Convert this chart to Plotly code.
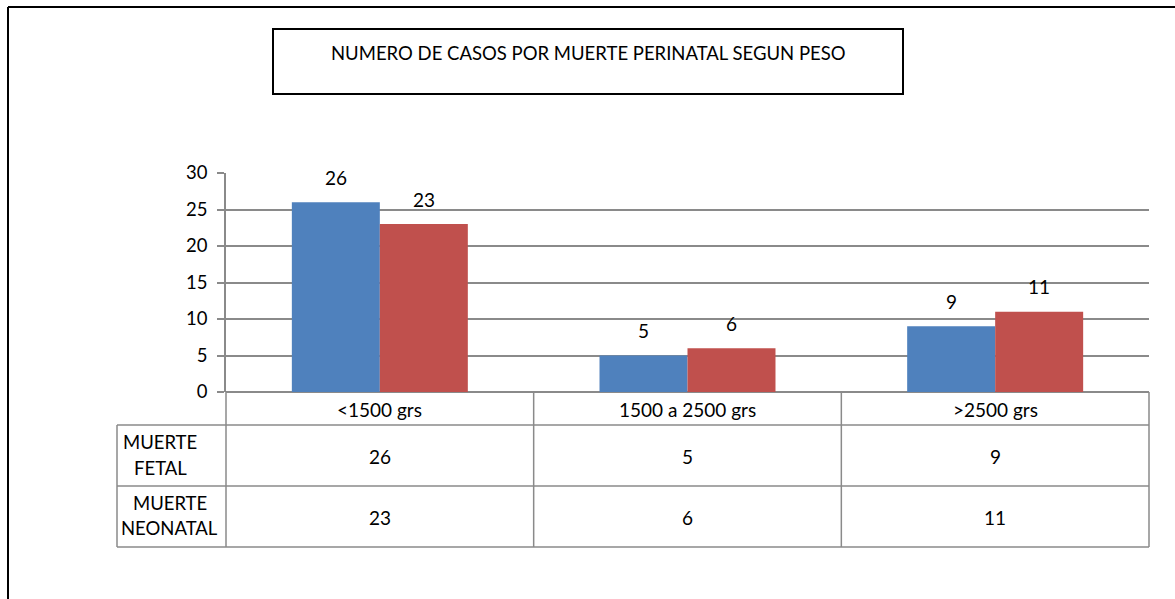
import plotly.graph_objects as go

categories = ["<1500 grs", "1500 a 2500 grs", ">2500 grs"]
series_names = ["MUERTE FETAL", "MUERTE NEONATAL"]
muerte_fetal = [26, 5, 9]
muerte_neonatal = [23, 6, 11]
title_text = "NUMERO DE CASOS POR MUERTE PERINATAL SEGUN PESO"
y_ticks = [0, 5, 10, 15, 20, 25, 30]

W, H = 1175, 599
FONT = "Lato"
FS = 19
FS_WORD = 18.5
GRID = "#8a8a8a"
colors = ["#4F81BD", "#C0504D"]
values = [muerte_fetal, muerte_neonatal]


def px(x):
    return x / W


def py(y):
    return 1 - y / H


fig = go.Figure()
for name, vals, col in zip(series_names, values, colors):
    fig.add_trace(go.Bar(x=categories, y=vals, name=name, marker=dict(color=col, line=dict(width=0))))

# plot area pixels
L, R, T, B = 226, 1149, 173, 392
fig.update_layout(
    width=W, height=H, autosize=False,
    margin=dict(l=0, r=0, t=0, b=0, pad=0, autoexpand=False),
    paper_bgcolor="white", plot_bgcolor="white",
    showlegend=False,
    barmode="group", bargap=0.428, bargroupgap=0,
    font=dict(family=FONT, size=FS, color="black"),
    xaxis=dict(domain=[px(L), px(R)], showticklabels=False, showgrid=False, automargin=False,
               zeroline=False, showline=False, fixedrange=True),
    yaxis=dict(domain=[py(B), py(T)], range=[0, 30], tickvals=y_ticks, automargin=False,
               showgrid=True, gridcolor=GRID, gridwidth=1.5,
               zeroline=True, zerolinecolor=GRID, zerolinewidth=1.5,
               showline=True, linecolor=GRID, linewidth=1.5,
               ticks="outside", ticklen=7, tickcolor=GRID, tickwidth=1.5,
               ticklabelstandoff=6,
               tickfont=dict(family=FONT, size=FS_WORD, color="black")),
)

shapes = []
# outer border
shapes.append(dict(type="line", xref="paper", yref="paper", x0=px(8), x1=px(1200), y0=py(7), y1=py(7),
                   line=dict(color="black", width=2)))
shapes.append(dict(type="line", xref="paper", yref="paper", x0=px(8), x1=px(8), y0=py(7), y1=py(620),
                   line=dict(color="black", width=2)))
# title box
shapes.append(dict(type="rect", xref="paper", yref="paper", x0=px(273), x1=px(903), y0=py(29), y1=py(94),
                   line=dict(color="black", width=2)))
# data table lines
tl = dict(color=GRID, width=1.5)
for yy in [425, 486, 547]:
    shapes.append(dict(type="line", xref="paper", yref="paper", x0=px(117), x1=px(R), y0=py(yy), y1=py(yy), line=tl))
shapes.append(dict(type="line", xref="paper", yref="paper", x0=px(117), x1=px(117), y0=py(425), y1=py(547), line=tl))
shapes.append(dict(type="line", xref="paper", yref="paper", x0=px(L), x1=px(L), y0=py(B), y1=py(547), line=tl))
cw = (R - L) / len(categories)
for i in range(1, len(categories) + 1):
    xx = L + cw * i
    shapes.append(dict(type="line", xref="paper", yref="paper", x0=px(xx), x1=px(xx), y0=py(B), y1=py(547), line=tl))
fig.update_layout(shapes=shapes)

ann = []
ann.append(dict(text=title_text, xref="paper", yref="paper", x=px(588), y=py(53), showarrow=False,
                xanchor="center", yanchor="middle", font=dict(family=FONT, size=FS_WORD)))
# data labels above bars
for s, vals in enumerate(values):
    shift = -44 if s == 0 else 44
    for c, v in zip(categories, vals):
        ann.append(dict(text=str(v), x=c, y=v, xref="x", yref="y", xshift=shift, yshift=25,
                        showarrow=False, xanchor="center", yanchor="middle"))
# table header (categories)
for c in categories:
    ann.append(dict(text=c, x=c, y=py(409), xref="x", yref="paper", showarrow=False,
                    xanchor="center", yanchor="middle"))
# table rows
row_mid = [456, 517]
row_lines = [[442, 468], [503, 528]]
head_cx = [160, 170]
for s, (name, vals) in enumerate(zip(series_names, values)):
    for c, v in zip(categories, vals):
        ann.append(dict(text=str(v), x=c, y=py(row_mid[s]), xref="x", yref="paper", showarrow=False,
                        xanchor="center", yanchor="middle"))
    for word, yy in zip(name.split(" "), row_lines[s]):
        ann.append(dict(text=word, x=px(head_cx[s]), y=py(yy), xref="paper", yref="paper", showarrow=False,
                        xanchor="center", yanchor="middle", font=dict(size=FS_WORD)))
fig.update_layout(annotations=ann)

fig.write_html(
    "out.html",
    config={"displayModeBar": False},
    post_script="document.body.style.margin='0';document.body.style.overflow='hidden';",
)
